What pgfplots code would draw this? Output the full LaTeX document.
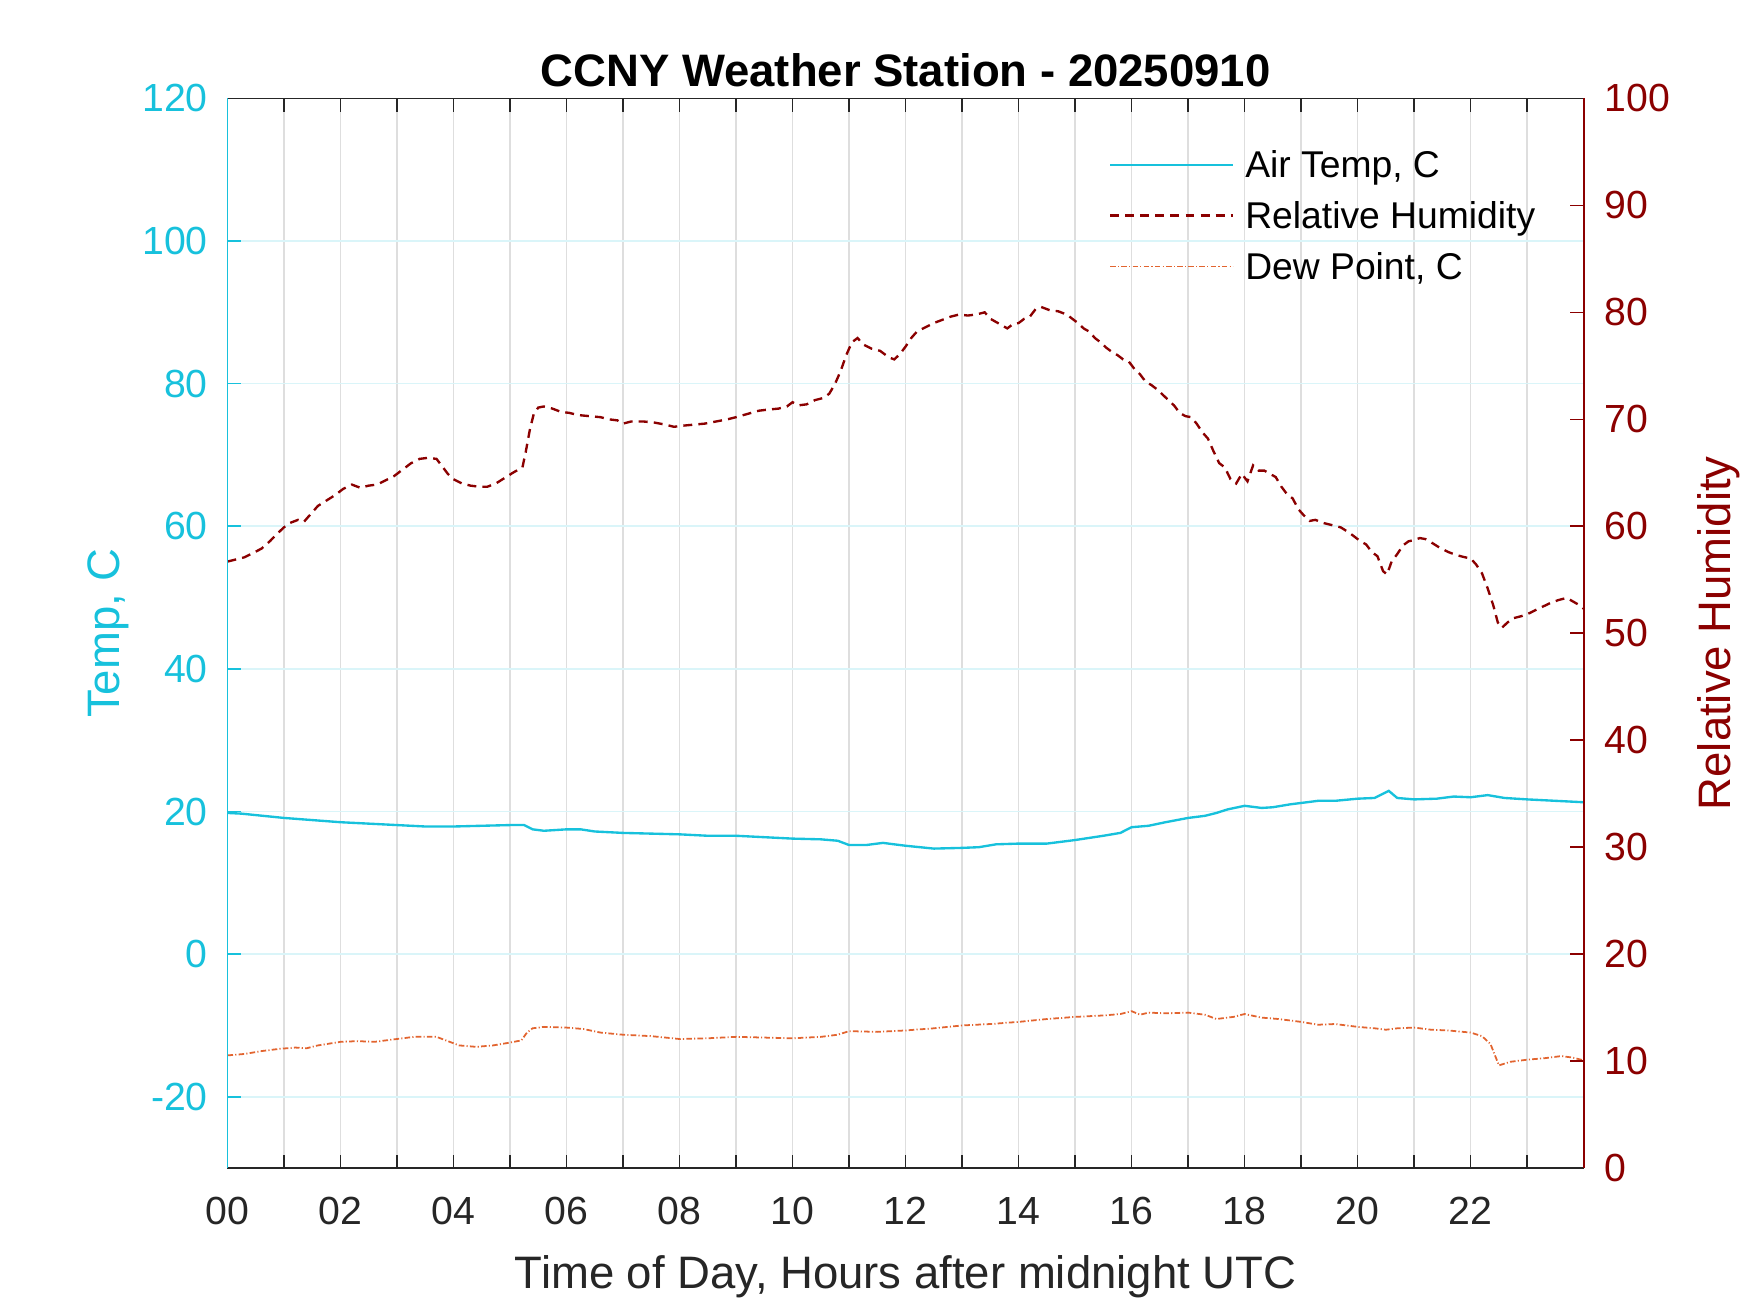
\documentclass[border=0pt]{standalone}
\usepackage{pgfplots}
\pgfplotsset{compat=1.18}
\usepackage{fontspec}
\setmainfont{Liberation Sans}
\definecolor{tc}{HTML}{17C1DC}
\definecolor{rc}{HTML}{8B0000}
\definecolor{dc}{HTML}{E2642F}
\definecolor{ax}{HTML}{262626}

\pgfplotstableread{
h T
0.00 19.8
0.25 19.7
0.50 19.5
0.75 19.3
1.00 19.1
1.50 18.8
2.00 18.5
2.50 18.3
3.00 18.1
3.50 17.9
4.00 17.9
4.50 18.0
5.00 18.1
5.25 18.1
5.40 17.5
5.60 17.3
6.00 17.5
6.25 17.5
6.50 17.2
7.00 17.0
7.50 16.9
8.00 16.8
8.50 16.6
9.00 16.6
9.50 16.4
10.00 16.2
10.50 16.1
10.80 15.9
11.00 15.3
11.30 15.3
11.60 15.6
12.00 15.2
12.50 14.8
13.00 14.9
13.30 15.0
13.60 15.4
14.00 15.5
14.50 15.5
14.80 15.8
15.00 16.0
15.50 16.6
15.80 17.0
16.00 17.8
16.30 18.0
16.60 18.5
17.00 19.1
17.30 19.4
17.50 19.8
17.70 20.3
18.00 20.8
18.30 20.5
18.50 20.6
18.80 21.0
19.00 21.2
19.30 21.5
19.60 21.5
20.00 21.8
20.30 21.9
20.45 22.5
20.55 22.9
20.70 21.9
21.00 21.7
21.40 21.8
21.70 22.1
22.00 22.0
22.30 22.3
22.60 21.9
23.00 21.7
23.50 21.5
24.00 21.3
}\temptable

\pgfplotstableread{
h D
0.00 -14.2
0.30 -14.0
0.60 -13.6
0.90 -13.3
1.20 -13.1
1.40 -13.2
1.60 -12.8
2.00 -12.3
2.30 -12.2
2.60 -12.3
3.00 -11.9
3.30 -11.6
3.70 -11.6
3.90 -12.2
4.10 -12.8
4.40 -13.0
4.70 -12.8
5.00 -12.4
5.20 -12.1
5.30 -11.0
5.40 -10.4
5.60 -10.2
6.00 -10.3
6.30 -10.5
6.60 -11.0
7.00 -11.3
7.50 -11.5
8.00 -11.9
8.50 -11.8
9.00 -11.6
9.50 -11.7
10.00 -11.8
10.50 -11.6
10.80 -11.3
11.00 -10.8
11.50 -10.9
12.00 -10.7
12.50 -10.4
13.00 -10.0
13.50 -9.8
14.00 -9.5
14.50 -9.1
15.00 -8.8
15.50 -8.6
15.80 -8.4
16.00 -8.0
16.15 -8.5
16.30 -8.2
16.60 -8.3
17.00 -8.2
17.30 -8.5
17.50 -9.1
17.80 -8.8
18.00 -8.4
18.30 -8.9
18.60 -9.1
19.00 -9.5
19.30 -9.9
19.60 -9.8
20.00 -10.2
20.30 -10.4
20.50 -10.6
20.70 -10.4
21.00 -10.3
21.30 -10.6
21.60 -10.7
22.00 -11.0
22.20 -11.5
22.35 -12.6
22.50 -15.6
22.70 -15.1
23.00 -14.8
23.30 -14.6
23.60 -14.3
23.80 -14.5
24.00 -14.9
}\dewtable

\pgfplotstableread{
h RH
0.00 56.7
0.15 56.9
0.30 57.1
0.45 57.5
0.60 57.9
0.75 58.6
0.90 59.4
1.00 59.9
1.10 60.3
1.25 60.6
1.35 60.4
1.45 61.0
1.60 61.9
1.75 62.4
1.90 62.9
2.05 63.5
2.20 63.9
2.35 63.6
2.50 63.8
2.65 63.9
2.80 64.3
2.95 64.7
3.10 65.3
3.25 65.9
3.40 66.3
3.55 66.4
3.70 66.3
3.80 65.6
3.90 64.9
4.00 64.4
4.15 64.0
4.30 63.8
4.45 63.7
4.60 63.7
4.75 64.0
4.90 64.5
5.05 65.0
5.15 65.3
5.22 65.5
5.28 67.0
5.35 69.0
5.42 70.5
5.50 71.1
5.60 71.2
5.75 71.0
5.90 70.7
6.05 70.6
6.20 70.4
6.40 70.3
6.60 70.2
6.75 70.0
6.90 69.9
7.00 69.6
7.15 69.8
7.35 69.8
7.55 69.7
7.75 69.5
7.90 69.3
8.05 69.4
8.25 69.5
8.45 69.6
8.65 69.8
8.85 70.0
9.00 70.2
9.20 70.5
9.40 70.8
9.55 70.9
9.75 71.0
9.90 71.2
10.00 71.6
10.10 71.3
10.25 71.4
10.40 71.8
10.55 72.0
10.65 72.4
10.75 73.3
10.85 74.5
10.95 76.0
11.05 77.2
11.15 77.6
11.25 77.0
11.40 76.6
11.55 76.4
11.70 75.8
11.80 75.6
11.90 76.1
12.00 76.8
12.10 77.6
12.20 78.2
12.35 78.6
12.50 79.0
12.65 79.3
12.80 79.6
12.95 79.8
13.10 79.7
13.25 79.8
13.40 80.0
13.50 79.4
13.60 79.1
13.70 78.8
13.80 78.5
13.90 78.9
14.00 79.0
14.10 79.4
14.20 79.6
14.30 80.3
14.40 80.5
14.55 80.2
14.70 80.1
14.85 79.8
14.95 79.4
15.05 79.0
15.15 78.5
15.25 78.2
15.35 77.6
15.45 77.2
15.55 76.7
15.65 76.3
15.75 76.0
15.85 75.6
15.95 75.4
16.05 74.7
16.15 74.2
16.25 73.5
16.35 73.2
16.45 72.8
16.55 72.3
16.65 71.8
16.75 71.3
16.85 70.6
16.95 70.3
17.05 70.2
17.15 69.6
17.25 68.8
17.35 68.2
17.45 67.0
17.55 65.9
17.65 65.5
17.75 64.4
17.85 64.0
17.95 64.9
18.05 64.2
18.15 65.7
18.25 65.2
18.35 65.2
18.45 64.9
18.55 64.6
18.65 63.7
18.75 63.0
18.85 62.6
18.95 61.6
19.05 61.0
19.15 60.5
19.25 60.6
19.40 60.3
19.55 60.1
19.70 59.9
19.85 59.4
19.95 59.0
20.05 58.6
20.15 58.3
20.25 57.6
20.35 57.2
20.45 55.8
20.52 55.5
20.60 56.7
20.70 57.4
20.80 58.2
20.90 58.6
21.00 58.7
21.10 58.9
21.20 58.8
21.30 58.5
21.45 58.0
21.60 57.6
21.75 57.3
21.90 57.1
22.00 57.0
22.10 56.4
22.20 55.6
22.30 54.2
22.40 52.6
22.48 51.0
22.55 50.5
22.65 51.0
22.75 51.4
22.90 51.6
23.05 51.9
23.20 52.3
23.40 52.8
23.55 53.1
23.70 53.3
23.80 53.0
23.90 52.7
24.00 52.3
}\rhtable

\begin{document}
\begin{tikzpicture}
\useasboundingbox (0,0) rectangle (156.8mm,117.6mm);
\begin{axis}[
  at={(20.38mm,12.94mm)}, anchor=south west,
  scale only axis, width=121.52mm, height=95.84mm,
  xmin=0, xmax=24, ymin=-30, ymax=120,
  clip=false,
  axis line style={draw=none},
  xtick={0,...,23},
  xticklabels={00,,02,,04,,06,,08,,10,,12,,14,,16,,18,,20,,22,},
  xtick pos=both, xticklabel pos=lower,
  ytick={-20,0,20,40,60,80,100,120},
  ytick pos=left, yticklabel pos=left,
  tick align=inside, major tick length=1.2mm,
  x tick style={color=ax, line width=0.4pt},
  y tick style={color=tc, line width=0.4pt},
  grid=major,
  major x grid style={color=black!13, line width=0.4pt},
  major y grid style={color=tc!16, line width=0.4pt},
  /pgf/number format/assume math mode=true,
  xticklabel style={anchor=base, yshift=-5.1mm, text=ax, inner sep=0pt, font=\fontsize{10}{12}\selectfont},
  yticklabel style={anchor=east, inner sep=0pt, xshift=-1.7mm, text=tc, font=\fontsize{10}{12}\selectfont},
  title={CCNY Weather Station - 20250910},
  every axis title/.style={at={(axis description cs:0.5,1)}, anchor=base, yshift=1.1mm, inner sep=0pt, font=\bfseries\fontsize{11.6}{14}\selectfont},
  xlabel={Time of Day, Hours after midnight UTC},
  xlabel style={at={(axis description cs:0.5,0)}, anchor=base, yshift=-10.8mm, inner sep=0pt, text=ax, font=\fontsize{11.6}{14}\selectfont},
  ylabel={Temp, C},
  every axis y label/.style={at={(axis description cs:-0.0799,0.5)}, rotate=90, anchor=base, inner sep=0pt, text=tc, font=\fontsize{11.6}{14}\selectfont},
]
\addplot[tc, line width=0.6pt] table[x=h, y=T] {\temptable};
\addplot[dc, line width=0.45pt, dash pattern=on 0.5mm off 0.2mm on 0.1mm off 0.2mm] table[x=h, y=D] {\dewtable};
\end{axis}
\begin{axis}[
  at={(20.38mm,12.94mm)}, anchor=south west,
  scale only axis, width=121.52mm, height=95.84mm,
  xmin=0, xmax=24, ymin=0, ymax=100,
  clip=false,
  hide x axis,
  axis line style={draw=none},
  ytick={0,10,...,100},
  ytick pos=right, yticklabel pos=right,
  tick align=inside, major tick length=1.2mm,
  y tick style={color=rc, line width=0.4pt},
  /pgf/number format/assume math mode=true,
  yticklabel style={anchor=west, inner sep=0pt, xshift=1.8mm, text=rc, font=\fontsize{10}{12}\selectfont},
  ylabel={Relative Humidity},
  every axis y label/.style={at={(axis description cs:1.1079,0.5)}, rotate=90, anchor=base, inner sep=0pt, text=rc, font=\fontsize{11.6}{14}\selectfont},
  legend style={draw=none, fill=none, at={(axis description cs:0.6500,0.953)}, anchor=north west,
    inner sep=0pt, outer sep=0pt, row sep=1.25mm, column sep=1.0mm,
    font=\fontsize{9.5}{11}\selectfont,
    nodes={inner sep=0pt, text height=2.6mm, text depth=0.7mm}},
  legend cell align=left,
  legend image code/.code={\draw[#1] (0mm,0.2mm) -- (11mm,0.2mm);},
]
\addlegendimage{tc, line width=0.6pt}
\addlegendentry{Air Temp, C}
\addplot[rc, line width=0.6pt, dash pattern=on 0.8mm off 0.55mm] table[x=h, y=RH] {\rhtable};
\addlegendentry{Relative Humidity}
\addlegendimage{dc, line width=0.45pt, dash pattern=on 0.5mm off 0.2mm on 0.1mm off 0.2mm}
\addlegendentry{Dew Point, C}
\draw[ax, line width=0.45pt] (rel axis cs:0,0) -- (rel axis cs:1,0);
\draw[ax, line width=0.45pt] (rel axis cs:0,1) -- (rel axis cs:1,1);
\draw[tc, line width=0.45pt] (rel axis cs:0,0) -- (rel axis cs:0,1);
\draw[rc, line width=0.45pt] (rel axis cs:1,0) -- (rel axis cs:1,1);
\end{axis}
\end{tikzpicture}
\end{document}
